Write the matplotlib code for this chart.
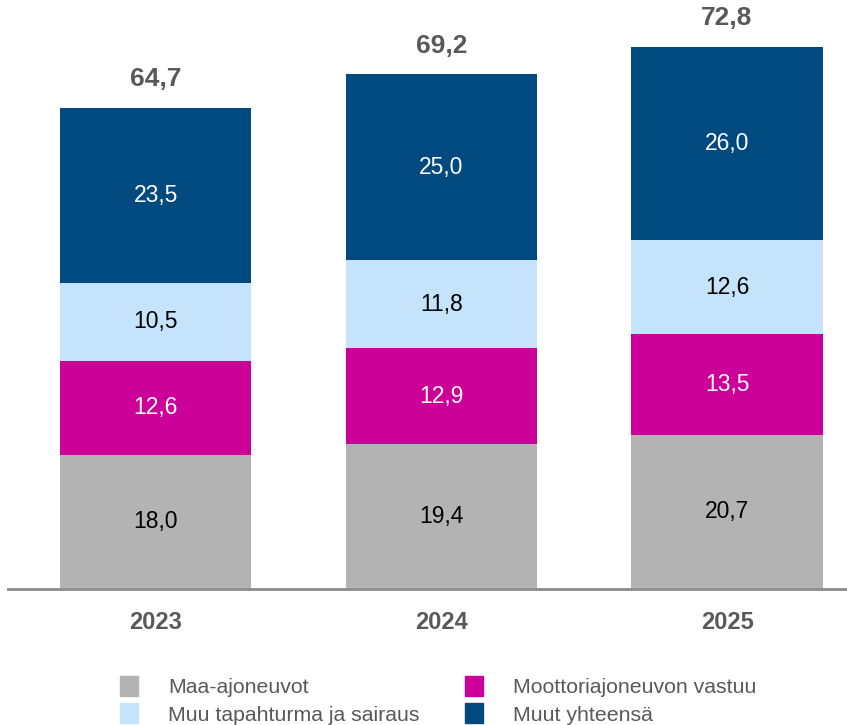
import matplotlib
matplotlib.use("Agg")
import matplotlib.pyplot as plt
from matplotlib.patches import Patch

years = ["2023", "2024", "2025"]
maa = [18.0, 19.4, 20.7]
moottori = [12.6, 12.9, 13.5]
muu_tap = [10.5, 11.8, 12.6]
muut = [23.5, 25.0, 26.0]
totals = [64.7, 69.2, 72.8]

series = [
    ("Maa-ajoneuvot", maa, "#b3b3b3", "black"),
    ("Moottoriajoneuvon vastuu", moottori, "#cc0099", "white"),
    ("Muu tapahturma ja sairaus", muu_tap, "#c5e3fa", "black"),
    ("Muut yhteensä", muut, "#004a80", "white"),
]

plt.rcParams['font.family'] = ['Liberation Sans', 'DejaVu Sans']

fig = plt.figure(figsize=(8.47, 7.25), dpi=100)
ax = fig.add_axes([8/847, (725-589)/725, 1 - 8/847, 589/725])

x = list(range(len(years)))
bottom = [0.0] * len(years)
for name, vals, col, tcol in series:
    ax.bar(x, vals, bottom=bottom, width=0.67, color=col, label=name)
    for i, v in enumerate(vals):
        ax.text(x[i], bottom[i] + v / 2, f"{v:.1f}".replace(".", ","),
                ha="center", va="center", color=tcol, fontsize=16.5)
    bottom = [b + v for b, v in zip(bottom, vals)]

for i, t in enumerate(totals):
    ax.text(x[i], bottom[i] + 2.2, f"{t:.1f}".replace(".", ","),
            ha="center", va="bottom", color="#595959", fontsize=19, fontweight="bold")

ax.set_xlim(-0.517, 2.42)
ax.set_ylim(0, 79.06)
for s in ["top", "right", "left"]:
    ax.spines[s].set_visible(False)
ax.spines["bottom"].set_color("#8c8c8c")
ax.spines["bottom"].set_linewidth(2)
ax.set_yticks([])
ax.set_xticks(x)
ax.set_xticklabels(years, fontsize=17, fontweight="bold", color="#595959")
ax.tick_params(axis="x", length=0, pad=16)

handles = [Patch(color=c) for _, _, c, _ in series]
labels = [n for n, _, _, _ in series]
order = [0, 2, 1, 3]
fig.legend([handles[i] for i in order], [labels[i] for i in order],
           ncol=2, loc="upper left", bbox_to_anchor=(120/847, 1 - 676/725),
           frameon=False, fontsize=15.3, labelcolor="#595959",
           handlelength=0.85, handleheight=1.05, handletextpad=1.4,
           columnspacing=2.16, labelspacing=0.3, borderpad=0, borderaxespad=0)

fig.savefig("out.png", dpi=100)
